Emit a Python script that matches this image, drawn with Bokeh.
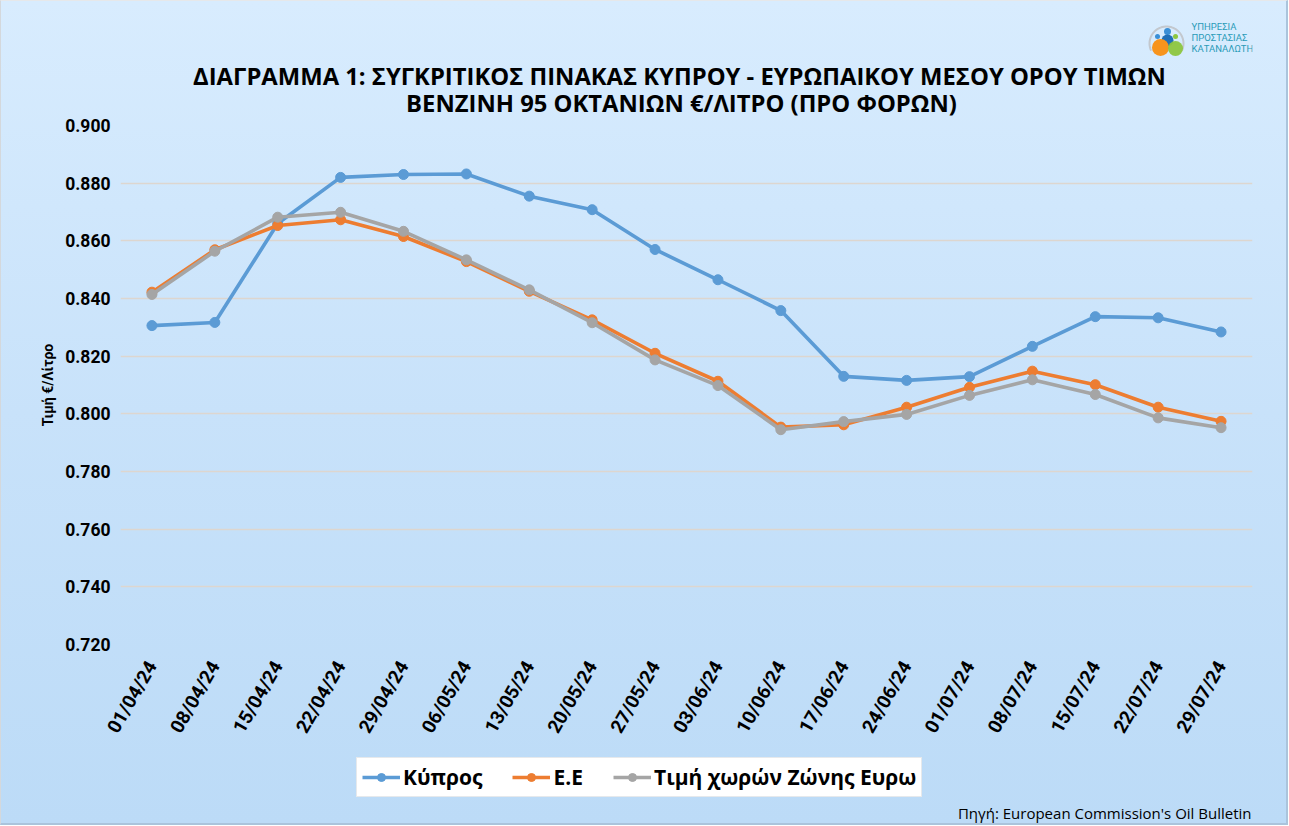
import numpy as np
from bokeh.plotting import figure
from bokeh.layouts import column
from bokeh.models import (FactorRange, Range1d, FixedTicker, NumeralTickFormatter,
                          Legend, LegendItem, Label)
from bokeh.embed import file_html
from bokeh.resources import INLINE
from math import pi

# ---------------- data ----------------
dates = ["01/04/24", "08/04/24", "15/04/24", "22/04/24", "29/04/24", "06/05/24",
         "13/05/24", "20/05/24", "27/05/24", "03/06/24", "10/06/24", "17/06/24",
         "24/06/24", "01/07/24", "08/07/24", "15/07/24", "22/07/24", "29/07/24"]
kypros = [0.8306, 0.8317, 0.8660, 0.8820, 0.8830, 0.8832, 0.8755, 0.8708, 0.8570,
          0.8465, 0.8358, 0.8130, 0.8116, 0.8129, 0.8234, 0.8337, 0.8333, 0.8284]
ee = [0.8422, 0.8569, 0.8653, 0.8673, 0.8615, 0.8528, 0.8425, 0.8326, 0.8210,
      0.8113, 0.7954, 0.7962, 0.8023, 0.8092, 0.8148, 0.8101, 0.8023, 0.7974]
eurozone = [0.8414, 0.8564, 0.8682, 0.8699, 0.8633, 0.8534, 0.8430, 0.8316, 0.8187,
            0.8098, 0.7945, 0.7973, 0.7998, 0.8064, 0.8118, 0.8067, 0.7986, 0.7952]
y_ticks = [0.72, 0.74, 0.76, 0.78, 0.80, 0.82, 0.84, 0.86, 0.88, 0.90]
series_names = ["Κύπρος", "Ε.Ε", "Τιμή χωρών Ζώνης Ευρω"]
colors = ["#5b9bd5", "#ed7d31", "#a5a5a5"]
title1 = "ΔΙΑΓΡΑΜΜΑ 1: ΣΥΓΚΡΙΤΙΚΟΣ ΠΙΝΑΚΑΣ ΚΥΠΡΟΥ - ΕΥΡΩΠΑΙΚΟΥ ΜΕΣΟΥ ΟΡΟΥ ΤΙΜΩΝ"
title2 = "ΒΕΝΖΙΝΗ 95 ΟΚΤΑΝΙΩΝ €/ΛΙΤΡΟ (ΠΡΟ ΦΟΡΩΝ)"
y_label = "Τιμή €/Λίτρο"
source = "Πηγή: European Commission's Oil Bulletin"
logo_lines = ["ΥΠΗΡΕΣΙΑ", "ΠΡΟΣΤΑΣΙΑΣ", "ΚΑΤΑΝΑΛΩΤΗ"]

FONT = "Roboto"
TFONT = "Open Sans"
W = 1285
HEAD_H = 116            # header strip (titles + logo)
FL, FW, FH = 119, 1132, 519
FR = W - FL - FW
MAIN_TOP, MAIN_BOTTOM = 8, 108
FOOT_H = 71             # legend + source strip
YMIN, YMAX = 0.72, 0.90


def strip(height, y_top):
    # frames of plots in a column are aligned with the main frame,
    # so map data x to canvas pixels over the frame span
    f = figure(width=W, height=height, output_backend="svg", toolbar_location=None,
               x_range=Range1d(FL, FL + FW), y_range=Range1d(y_top + height, y_top),
               x_axis_type=None, y_axis_type=None,
               min_border_left=FL, min_border_right=FR,
               min_border_top=0, min_border_bottom=0)
    f.grid.visible = False
    f.outline_line_color = None
    f.background_fill_alpha = 0
    f.border_fill_alpha = 0
    return f


# ---------------- header ----------------
head = strip(HEAD_H, 0)
for t, xx, yy in ((title1, 678, 74), (title2, 680, 101)):
    head.add_layout(Label(x=xx, y=yy, text=t, text_font=TFONT, text_font_size="23.8px",
                          text_font_style="bold", text_align="center",
                          text_baseline="middle", text_color="#000000"))
teal = "#2a9bb8"
for i, t in enumerate(logo_lines):
    head.add_layout(Label(x=1190, y=25 + 11 * i, text=t, text_font=FONT,
                          text_font_size="9.5px", text_align="left",
                          text_baseline="middle", text_color=teal))
# logo emblem
tt = np.linspace(np.radians(205), np.radians(-25), 40)
head.line(1165 + 17 * np.cos(tt), 42 - 17 * np.sin(tt), line_color="#c3c8ce", line_width=2)
head.circle(x=[1156, 1166], y=[35, 30], radius=[2.5, 3.5], fill_color="#3a8fd6",
            line_color=None)
head.circle(x=[1166], y=[39], radius=[6], fill_color="#1f6fb8", line_color=None)
head.circle(x=[1159], y=[46], radius=[8.5], fill_color="#f7941d", line_color=None)
head.circle(x=[1174], y=[47], radius=[7.5], fill_color="#8dc63f", line_color=None,
            fill_alpha=0.95)
head.circle(x=[1174], y=[35], radius=[2.5], fill_color="#8dc63f", line_color=None)

# ---------------- main chart ----------------
p = figure(frame_width=FW, frame_height=FH, output_backend="svg", toolbar_location=None,
           x_range=FactorRange(*dates, range_padding=0),
           y_range=Range1d(YMIN, YMAX),
           min_border_left=FL, min_border_top=MAIN_TOP,
           min_border_right=FR, min_border_bottom=MAIN_BOTTOM)
p.x_range.factor_padding = 0
p.background_fill_alpha = 0
p.border_fill_alpha = 0
p.outline_line_color = None

p.yaxis.ticker = FixedTicker(ticks=y_ticks)
p.yaxis.formatter = NumeralTickFormatter(format="0.000")
for ax in (p.xaxis[0], p.yaxis[0]):
    ax.axis_line_color = None
    ax.major_tick_line_color = None
    ax.minor_tick_line_color = None
    ax.major_tick_out = 0
    ax.major_tick_in = 0
    ax.major_label_text_font = FONT
    ax.major_label_text_font_style = "bold"
    ax.major_label_text_color = "#000000"
p.yaxis.major_label_text_font_size = "17.5px"
p.yaxis.major_label_standoff = 10
p.xaxis.major_label_text_font_size = "19px"
p.xaxis.major_label_orientation = pi / 3
p.xaxis.major_label_standoff = 18
p.yaxis.axis_label = y_label
p.yaxis.axis_label_text_font = FONT
p.yaxis.axis_label_text_font_style = "bold"
p.yaxis.axis_label_text_font_size = "14px"
p.yaxis.axis_label_standoff = 6
p.yaxis.axis_label_text_color = "#000000"

p.xgrid.grid_line_color = None
p.ygrid.grid_line_color = "#ddd6cf"
p.ygrid.grid_line_width = 1.5

for name, vals, c in zip(series_names, [kypros, ee, eurozone], colors):
    p.line(dates, vals, line_color=c, line_width=3.6)
    p.scatter(dates, vals, size=10, fill_color=c, line_color=c)

# ---------------- footer: legend + source ----------------
foot_top = HEAD_H + MAIN_TOP + FH + MAIN_BOTTOM
foot = strip(FOOT_H, foot_top)
items = []
for name, c in zip(series_names, colors):
    # legend proxies (a single undefined point, nothing is drawn in the strip)
    r1 = foot.line([np.nan], [np.nan], line_color=c, line_width=3.6)
    r2 = foot.scatter([np.nan], [np.nan], size=10, fill_color=c, line_color=c)
    items.append(LegendItem(label=name, renderers=[r1, r2]))
legend = Legend(items=items, orientation="horizontal", location=(236, 26),
                background_fill_color="white", background_fill_alpha=1,
                border_line_color="#cdd3d9", border_line_width=1,
                label_text_font=TFONT, label_text_font_style="bold",
                label_text_font_size="21px", label_text_color="#000000",
                glyph_width=38, glyph_height=20, label_standoff=3,
                spacing=30, padding=5, margin=0, label_height=20)
foot.add_layout(legend, "center")
foot.add_layout(Label(x=FL + FW - 1, y=foot_top + 60, text=source, text_font=TFONT,
                      text_font_size="15px", text_align="right",
                      text_baseline="middle", text_color="#000000"))

layout = column(head, p, foot, spacing=0,
                styles={"background": "linear-gradient(180deg, #d8ecfe 0%, #c8e2fa 50%, #bcdbf7 100%)",
                        "border-left": "1px solid #d4d8dc", "border-top": "1px solid #e6e8ea",
                        "border-right": "2px solid #aac4dc",
                        "border-bottom": "2px solid #aac4dc"})

open("out.html", "w").write(file_html(layout, INLINE))
